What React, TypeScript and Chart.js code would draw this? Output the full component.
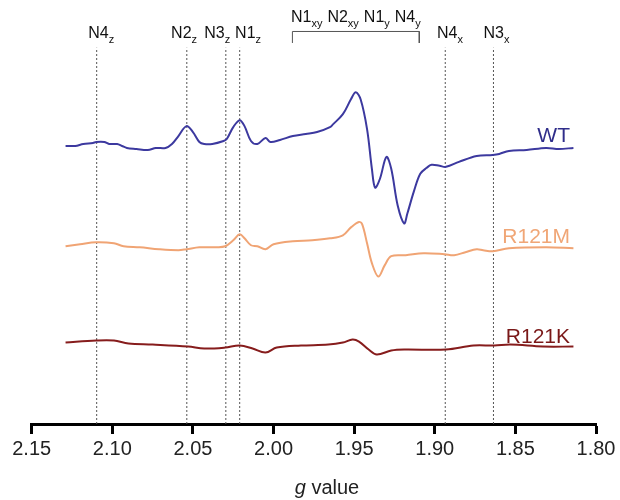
import React, { useEffect, useRef } from "react";
import { Chart, registerables } from "chart.js";
Chart.register(...registerables);

// ---- data (g value, signal intensity in arbitrary units) ----
const wtG = [2.129, 2.123, 2.118, 2.112, 2.110, 2.105, 2.102, 2.097, 2.094, 2.091, 2.085, 2.078, 2.073, 2.067, 2.063, 2.059, 2.054, 2.050, 2.046, 2.043, 2.038, 2.031, 2.029, 2.025, 2.021, 2.018, 2.014, 2.010, 2.005, 2.002, 1.996, 1.988, 1.980, 1.973, 1.965, 1.963, 1.957, 1.952, 1.949, 1.946, 1.942, 1.939, 1.937, 1.934, 1.930, 1.927, 1.923, 1.919, 1.917, 1.913, 1.909, 1.905, 1.902, 1.897, 1.893, 1.885, 1.874, 1.864, 1.860, 1.854, 1.843, 1.831, 1.823, 1.814];
const wtI = [280, 280, 282, 283, 284, 284, 282, 282, 280, 278, 277, 276, 278, 278, 282, 290, 300, 294, 284, 282, 282, 285, 287, 299, 306, 300, 285, 282, 288, 284, 286, 290, 292, 294, 299, 302, 312, 327, 334, 327, 297, 257, 238, 247, 269, 257, 220, 202, 212, 234, 252, 258, 261, 260, 259, 264, 270, 271, 272, 275, 276, 278, 277, 278];

const mG = [2.129, 2.120, 2.110, 2.099, 2.093, 2.083, 2.071, 2.059, 2.054, 2.046, 2.035, 2.030, 2.025, 2.021, 2.018, 2.014, 2.010, 2.005, 2.000, 1.988, 1.976, 1.965, 1.957, 1.952, 1.947, 1.945, 1.942, 1.939, 1.935, 1.931, 1.927, 1.918, 1.907, 1.894, 1.888, 1.881, 1.874, 1.870, 1.864, 1.854, 1.831, 1.814];
const mI = [179, 181, 183, 182, 179, 178, 176, 175, 176, 178, 178, 179, 185, 191, 187, 180, 179, 176, 181, 184, 185, 187, 190, 198, 203.5, 201, 182, 162, 148.5, 160, 169, 170, 172, 171, 170, 173, 176, 175, 174, 177, 178, 177];

const kG = [2.129, 2.110, 2.099, 2.090, 2.075, 2.053, 2.043, 2.030, 2.021, 2.013, 2.005, 1.998, 1.983, 1.966, 1.957, 1.951, 1.947, 1.941, 1.936, 1.927, 1.919, 1.893, 1.876, 1.863, 1.853, 1.833, 1.814];
const kI = [82, 84, 84, 81, 80, 78, 76, 77, 79, 76, 72, 77, 79, 80, 82, 85, 83, 75, 70, 74, 75, 75, 79, 79, 80, 78, 78];

// marker lines (g values) and their labels
const markerG = [2.1097, 2.0538, 2.0296, 2.021, 1.8935, 1.8636];
const markerTop = 379;
const labelG = [2.1069, 2.0555, 2.0349, 2.0158, 1.8906, 1.8617];
const labelMain = ["N4", "N2", "N3", "N1", "N4", "N3"];
const labelSub = ["z", "z", "z", "z", "x", "x"];

// bracket over the xy/y region
const bracketG = [1.9883, 1.9096];
const bracketY = [383.7, 395.3];
const bracketMain = ["N1", "N2", "N1", "N4"];
const bracketSub = ["xy", "xy", "y", "y"];

const xTicks = [2.15, 2.1, 2.05, 2.0, 1.95, 1.9, 1.85, 1.8];

const seriesNames = ["WT", "R121M", "R121K"];
const seriesColors = ["#3c399f", "#f0a474", "#861c1c"];
const labelColors = ["#2f2d8a", "#f0a676", "#7a1818"];
const labelIntensity = [284, 183, 82];

const FONT = '"Liberation Sans", Arial, sans-serif';

function toPts(g: number[], v: number[]) {
  return g.map((x, i) => ({ x, y: v[i] }));
}

const annotPlugin = {
  id: "annot",
  afterDraw(chart: any) {
    const ctx = chart.ctx;
    const xs = chart.scales.x;
    const ys = chart.scales.y;
    const mainSize = 16;
    const subSize = 11;
    const measure = (parts: [string, string][], gap: number) => {
      let w = 0;
      parts.forEach(([m, s], i) => {
        ctx.font = `${mainSize}px ${FONT}`;
        w += ctx.measureText(m).width;
        ctx.font = `${subSize}px ${FONT}`;
        w += ctx.measureText(s).width;
        if (i < parts.length - 1) w += gap;
      });
      return w;
    };
    const drawParts = (parts: [string, string][], cx: number, base: number, gap: number) => {
      const total = measure(parts, gap);
      let x = cx - total / 2;
      ctx.fillStyle = "#111";
      ctx.textBaseline = "alphabetic";
      ctx.textAlign = "left";
      parts.forEach(([m, s]) => {
        ctx.font = `${mainSize}px ${FONT}`;
        ctx.fillText(m, x, base);
        x += ctx.measureText(m).width;
        ctx.font = `${subSize}px ${FONT}`;
        ctx.fillText(s, x, base + 5);
        x += ctx.measureText(s).width;
        x += gap;
      });
    };
    ctx.save();
    labelMain.forEach((m, i) => {
      drawParts([[m, labelSub[i]]], xs.getPixelForValue(labelG[i]), 37.5, 0);
    });
    const bcx = (xs.getPixelForValue(bracketG[0]) + xs.getPixelForValue(bracketG[1])) / 2;
    drawParts(bracketMain.map((m, i) => [m, bracketSub[i]] as [string, string]), bcx, 21.5, 5);

    // series labels
    ctx.font = `21px ${FONT}`;
    ctx.textAlign = "right";
    ctx.textBaseline = "alphabetic";
    seriesNames.forEach((n, i) => {
      ctx.fillStyle = labelColors[i];
      ctx.fillText(n, 570, ys.getPixelForValue(labelIntensity[i]) + 0.5);
    });

    // axis title: italic g + value
    const tb = 494;
    ctx.fillStyle = "#222";
    ctx.textAlign = "left";
    ctx.font = `italic 20px ${FONT}`;
    const gw = ctx.measureText("g").width;
    ctx.font = `20px ${FONT}`;
    const vw = ctx.measureText(" value").width;
    const start = 327 - (gw + vw) / 2;
    ctx.font = `italic 20px ${FONT}`;
    ctx.fillText("g", start, tb);
    ctx.font = `20px ${FONT}`;
    ctx.fillText(" value", start + gw, tb);
    ctx.restore();
  },
};

export default function App() {
  const ref = useRef<HTMLCanvasElement | null>(null);
  useEffect(() => {
    if (!ref.current) return;
    const traces = [toPts(wtG, wtI), toPts(mG, mI), toPts(kG, kI)].map((d, i) => ({
      label: seriesNames[i],
      data: d,
      borderColor: seriesColors[i],
      borderWidth: 2,
      pointRadius: 0,
      tension: 0.35,
      fill: false,
    }));
    const markers = markerG.map((g, i) => ({
      label: "m" + i,
      data: [
        { x: g, y: 0 },
        { x: g, y: markerTop },
      ],
      borderColor: "#555",
      borderWidth: 1,
      borderDash: [2, 2],
      pointRadius: 0,
      fill: false,
    }));
    const bracket = {
      label: "bracket",
      data: [
        { x: bracketG[0], y: bracketY[0] },
        { x: bracketG[0], y: bracketY[1] },
        { x: bracketG[1], y: bracketY[1] },
        { x: bracketG[1], y: bracketY[0] },
      ],
      borderColor: "#555",
      borderWidth: 1,
      pointRadius: 0,
      tension: 0,
      fill: false,
    };
    const chart = new Chart(ref.current, {
      type: "line",
      data: { datasets: [...traces, ...markers, bracket] as any },
      options: {
        animation: false,
        responsive: false,
        maintainAspectRatio: false,
        layout: { padding: { left: 31.7, right: 24, top: 0, bottom: 36 } },
        plugins: { legend: { display: false }, tooltip: { enabled: false } },
        scales: {
          x: {
            type: "linear",
            reverse: true,
            min: 1.8,
            max: 2.15,
            afterBuildTicks: (s: any) => {
              s.ticks = xTicks.map((v) => ({ value: v }));
            },
            ticks: {
              callback: (v: any) => Number(v).toFixed(2),
              font: { size: 20, family: FONT },
              color: "#222",
              padding: 3,
              maxRotation: 0,
              autoSkip: false,
            },
            grid: {
              display: true,
              drawOnChartArea: false,
              drawTicks: true,
              tickLength: 10,
              tickWidth: 3,
              tickColor: "#000",
            },
            border: { display: true, color: "#000", width: 3 },
          },
          y: { type: "linear", display: false, min: 0, max: 427 },
        },
      },
      plugins: [annotPlugin],
    });
    return () => chart.destroy();
  }, []);
  return (
    <div style={{ position: "fixed", left: 0, top: 0, width: 620, height: 500, background: "#fff" }}>
      <canvas ref={ref} width={620} height={500} style={{ width: 620, height: 500, display: "block" }} />
    </div>
  );
}
